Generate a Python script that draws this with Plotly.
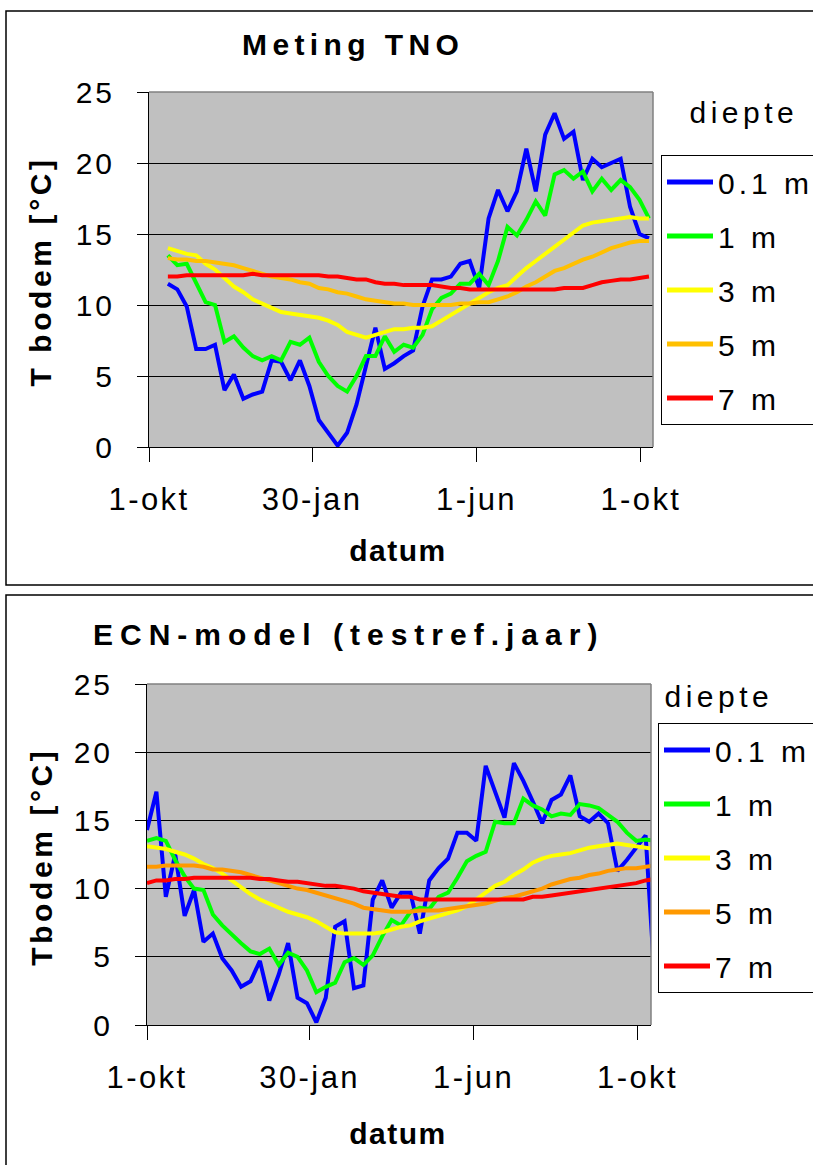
import plotly.graph_objects as go
import pandas as pd

W, H = 813, 1165
FONT = "Liberation Sans, Arial, sans-serif"

depths = ["0.1 m", "1 m", "3 m", "5 m", "7 m"]
tno_colors = ["#0000FF", "#00FF00", "#FFFF00", "#FFC000", "#FF0000"]
ecn_colors = ["#0000FF", "#00FF00", "#FFFF00", "#FF9900", "#FF0000"]

tick_dates = ["2001-10-01", "2002-01-30", "2002-06-01", "2002-10-01"]
tick_labels = ["1-okt", "30-jan", "1-jun", "1-okt"]

# weekly soil temperature readings (TNO measurements)
tno_dates = pd.date_range("2001-10-15", periods=52, freq="7D")
tno_01 = [11.5, 11.1, 9.9, 6.9, 6.9, 7.2, 4.0, 5.1, 3.4, 3.7, 3.9, 6.1, 6.0, 4.7, 6.1, 4.3, 1.9, 1.0, 0.1, 1.0,
          3.0, 5.7, 8.4, 5.5, 5.9, 6.4, 6.8, 9.9, 11.8, 11.8, 12.0, 12.9, 13.1, 11.2, 16.1, 18.1, 16.6, 18.0, 21.0, 18.0,
          22.0, 23.5, 21.7, 22.2, 18.8, 20.3, 19.7, 20.0, 20.3, 16.9, 15.0, 14.7]
tno_1 = [13.5, 12.8, 12.9, 11.6, 10.2, 10.0, 7.4, 7.8, 7.0, 6.4, 6.1, 6.4, 6.1, 7.4, 7.2, 7.7, 6.0, 5.0, 4.3, 3.9,
         5.0, 6.4, 6.4, 7.8, 6.7, 7.2, 7.0, 7.9, 9.7, 10.5, 10.8, 11.5, 11.5, 12.2, 11.4, 13.1, 15.5, 14.9, 16.0, 17.3,
         16.3, 19.2, 19.5, 18.9, 19.4, 18.0, 18.9, 18.1, 18.8, 18.3, 17.4, 16.1]
tno_3 = [14.0, 13.8, 13.6, 13.5, 12.9, 12.5, 11.9, 11.3, 10.9, 10.4, 10.1, 9.8, 9.5, 9.4, 9.3, 9.2, 9.1, 8.9, 8.6, 8.1,
         7.9, 7.7, 7.9, 8.1, 8.3, 8.3, 8.4, 8.4, 8.5, 8.9, 9.3, 9.7, 10.1, 10.5, 10.9, 11.2, 11.4, 12.0, 12.6, 13.1,
         13.6, 14.1, 14.6, 15.1, 15.6, 15.8, 15.9, 16.0, 16.1, 16.2, 16.1, 16.1]
tno_5 = [13.3, 13.2, 13.2, 13.1, 13.1, 13.0, 12.9, 12.8, 12.6, 12.4, 12.2, 12.0, 11.9, 11.8, 11.6, 11.5, 11.2, 11.1, 10.9, 10.8,
         10.6, 10.4, 10.3, 10.2, 10.1, 10.1, 10.0, 10.0, 10.0, 10.0, 10.0, 10.1, 10.1, 10.2, 10.2, 10.4, 10.6, 10.9, 11.3, 11.6,
         12.0, 12.4, 12.6, 12.9, 13.2, 13.4, 13.7, 14.0, 14.2, 14.4, 14.5, 14.5]
tno_7 = [12.0, 12.0, 12.1, 12.1, 12.1, 12.1, 12.1, 12.1, 12.1, 12.2, 12.1, 12.1, 12.1, 12.1, 12.1, 12.1, 12.1, 12.0, 12.0, 11.9,
         11.8, 11.8, 11.6, 11.5, 11.5, 11.4, 11.4, 11.4, 11.4, 11.3, 11.2, 11.2, 11.1, 11.1, 11.1, 11.1, 11.1, 11.1, 11.1, 11.1,
         11.1, 11.1, 11.2, 11.2, 11.2, 11.4, 11.6, 11.7, 11.8, 11.8, 11.9, 12.0]

# weekly model output (ECN model, test reference year)
ecn_dates = pd.date_range("2001-10-01", periods=55, freq="7D")
ecn_01 = [14.3, 17.1, 9.4, 12.5, 8.0, 9.9, 6.1, 6.7, 4.9, 4.0, 2.8, 3.2, 4.7, 1.8, 3.7, 6.0, 2.0, 1.6, 0.2, 2.0,
          7.2, 7.6, 2.7, 2.9, 9.2, 10.6, 8.6, 9.7, 9.7, 6.7, 10.6, 11.5, 12.2, 14.1, 14.1, 13.5, 19.0, 17.1, 15.2, 19.2,
          17.9, 16.4, 14.8, 16.5, 16.9, 18.3, 15.3, 14.9, 15.5, 14.8, 11.3, 12.1, 13.0, 13.9, 2.8]
ecn_1 = [13.5, 13.7, 13.5, 12.1, 10.9, 10.0, 9.9, 8.1, 7.3, 6.6, 6.0, 5.4, 5.2, 5.6, 4.4, 5.3, 5.0, 4.0, 2.4, 2.8,
         3.1, 4.6, 4.9, 4.4, 5.1, 6.5, 7.7, 7.3, 8.3, 8.6, 8.5, 9.4, 9.7, 10.8, 12.0, 12.4, 12.7, 14.9, 14.8, 14.8,
         16.6, 16.1, 15.8, 15.3, 15.5, 15.4, 16.2, 16.1, 15.9, 15.4, 14.9, 14.1, 13.5, 13.6, 13.5]
ecn_3 = [13.1, 13.0, 12.9, 12.7, 12.5, 12.2, 11.8, 11.5, 11.1, 10.6, 10.1, 9.6, 9.2, 8.9, 8.6, 8.3, 8.1, 7.9, 7.6, 7.2,
         6.8, 6.7, 6.7, 6.7, 6.7, 6.8, 7.0, 7.2, 7.3, 7.6, 7.8, 8.0, 8.2, 8.4, 8.7, 9.2, 9.7, 10.2, 10.5, 11.0,
         11.4, 11.9, 12.2, 12.4, 12.5, 12.6, 12.8, 13.0, 13.1, 13.2, 13.3, 13.2, 13.1, 13.0, 12.9]
ecn_5 = [11.6, 11.6, 11.7, 11.7, 11.7, 11.7, 11.6, 11.4, 11.4, 11.3, 11.2, 11.0, 10.8, 10.6, 10.4, 10.2, 10.0, 9.9, 9.7, 9.5,
         9.3, 9.1, 8.9, 8.6, 8.5, 8.4, 8.3, 8.3, 8.3, 8.4, 8.4, 8.4, 8.5, 8.6, 8.7, 8.8, 8.9, 9.1, 9.3, 9.4,
         9.6, 9.8, 10.0, 10.3, 10.5, 10.7, 10.8, 11.0, 11.1, 11.3, 11.4, 11.5, 11.5, 11.6, 11.7]
ecn_7 = [10.4, 10.6, 10.6, 10.7, 10.7, 10.8, 10.8, 10.8, 10.8, 10.8, 10.8, 10.8, 10.7, 10.7, 10.6, 10.5, 10.5, 10.4, 10.3, 10.2,
         10.2, 10.1, 10.0, 9.8, 9.7, 9.6, 9.5, 9.4, 9.4, 9.2, 9.2, 9.2, 9.2, 9.2, 9.2, 9.2, 9.2, 9.2, 9.2, 9.2,
         9.2, 9.4, 9.4, 9.5, 9.6, 9.7, 9.8, 9.9, 10.0, 10.1, 10.2, 10.3, 10.4, 10.6, 10.7]

tno_series = [tno_01, tno_1, tno_3, tno_5, tno_7]
ecn_series = [ecn_01, ecn_1, ecn_3, ecn_5, ecn_7]


def px_x(v):
    return v / W


def px_y(v):
    return 1 - v / H


fig = go.Figure()

for i, (name, vals) in enumerate(zip(depths, tno_series)):
    fig.add_trace(go.Scatter(
        x=tno_dates, y=vals, name=name, mode="lines",
        line=dict(color=tno_colors[i], width=4),
        xaxis="x", yaxis="y", legend="legend", legendgroup=f"t{i}",
    ))

for i, (name, vals) in enumerate(zip(depths, ecn_series)):
    fig.add_trace(go.Scatter(
        x=ecn_dates, y=vals, name=name, mode="lines",
        line=dict(color=ecn_colors[i], width=4),
        xaxis="x2", yaxis="y2", legend="legend2", legendgroup=f"e{i}",
    ))

xcommon = dict(
    type="date", tickmode="array", tickvals=tick_dates, ticktext=tick_labels,
    ticks="outside", ticklen=14, tickcolor="black", tickwidth=1,
    showline=True, linecolor="black", linewidth=1, showgrid=False, zeroline=False,
    tickfont=dict(family=FONT, size=31, color="black"), ticklabelstandoff=11,
)
ycommon = dict(
    range=[0, 25], tickmode="linear", tick0=0, dtick=5,
    ticks="outside", ticklen=11, tickcolor="black", tickwidth=1,
    showline=True, linecolor="black", linewidth=1,
    showgrid=True, gridcolor="black", gridwidth=1, zeroline=False,
    tickfont=dict(family=FONT, size=30, color="black"), ticklabelstandoff=16,
)

legcommon = dict(
    xanchor="left", yanchor="top", bgcolor="white", bordercolor="black", borderwidth=1,
    font=dict(family=FONT, size=30, color="black"), tracegroupgap=12,
    itemsizing="constant", itemwidth=46,
)

fig.update_layout(
    width=W, height=H,
    margin=dict(l=0, r=0, t=0, b=0, autoexpand=False),
    paper_bgcolor="white", plot_bgcolor="#C0C0C0",
    showlegend=True,
    xaxis=dict(domain=[px_x(149), px_x(653)], range=["2001-10-01", "2002-10-10"], anchor="y", **xcommon),
    yaxis=dict(domain=[px_y(447), px_y(92)], anchor="x", **ycommon),
    xaxis2=dict(domain=[px_x(147), px_x(651)], range=["2001-10-01", "2002-10-11"], anchor="y2", **xcommon),
    yaxis2=dict(domain=[px_y(1025), px_y(684)], anchor="x2", **ycommon),
    legend=dict(x=px_x(661), y=px_y(155), **legcommon),
    legend2=dict(x=px_x(658), y=px_y(723), **legcommon),
)

shapes = []
# panel frames
for y0, y1 in [(11, 585), (595, 1175)]:
    shapes.append(dict(type="rect", xref="paper", yref="paper",
                       x0=px_x(6), x1=px_x(830), y0=px_y(y1), y1=px_y(y0),
                       line=dict(color="black", width=1.5), layer="below"))
# grey top/right edges of the plot areas
for xa, ya in [("x", "y"), ("x2", "y2")]:
    shapes.append(dict(type="line", xref=f"{xa} domain", yref=f"{ya} domain",
                       x0=0, x1=1, y0=1, y1=1, line=dict(color="#808080", width=1.5), layer="above"))
    shapes.append(dict(type="line", xref=f"{xa} domain", yref=f"{ya} domain",
                       x0=1, x1=1, y0=0, y1=1, line=dict(color="#808080", width=1.5), layer="above"))
fig.update_layout(shapes=shapes)

ann = []


def text(x, y, s, size=30, bold=False, angle=0, xanchor="center"):
    ann.append(dict(
        x=px_x(x), y=px_y(y), xref="paper", yref="paper", text=f"<b>{s}</b>" if bold else s,
        showarrow=False, xanchor=xanchor, yanchor="middle", textangle=angle,
        font=dict(family=FONT, size=size, color="black"),
    ))


text(353, 44, "Meting TNO", bold=True)
text(348, 634, "ECN-model (testref.jaar)", bold=True)
text(398, 550, "datum", bold=True)
text(398, 1133, "datum", bold=True)
text(40, 272, "T bodem [°C]", bold=True, angle=-90)
text(41, 857, "Tbodem [°C]", bold=True, angle=-90)
text(744, 112, "diepte")
text(719, 696, "diepte")
fig.update_layout(annotations=ann)

# wider character spacing for the chart texts, and legend boxes that run
# on past the right edge of the page, applied through a stylesheet
post = """
var css = [
  'g.annotation[data-index="0"] text { letter-spacing: 5.4px; }',
  'g.annotation[data-index="1"] text { letter-spacing: 7px; }',
  'g.annotation[data-index="2"] text, g.annotation[data-index="3"] text { letter-spacing: 1.5px; }',
  'g.annotation[data-index="4"] text, g.annotation[data-index="5"] text { letter-spacing: 3.6px; }',
  'g.annotation[data-index="6"] text, g.annotation[data-index="7"] text { letter-spacing: 4.5px; }',
  'g.xtick text, g.x2tick text { letter-spacing: 2.4px; }',
  'g.ytick text, g.y2tick text { letter-spacing: 3px; }',
  'text.legendtext, text.legend2text { letter-spacing: 4px; }',
  'g.legend rect.bg, g.legend2 rect.bg { width: 300px; }',
  'g.legend g.scrollbox, g.legend2 g.scrollbox { clip-path: none; }'
].join('\\n');
var s = document.createElement('style');
s.textContent = css;
document.head.appendChild(s);
"""

fig.write_html("out.html", post_script=post)
